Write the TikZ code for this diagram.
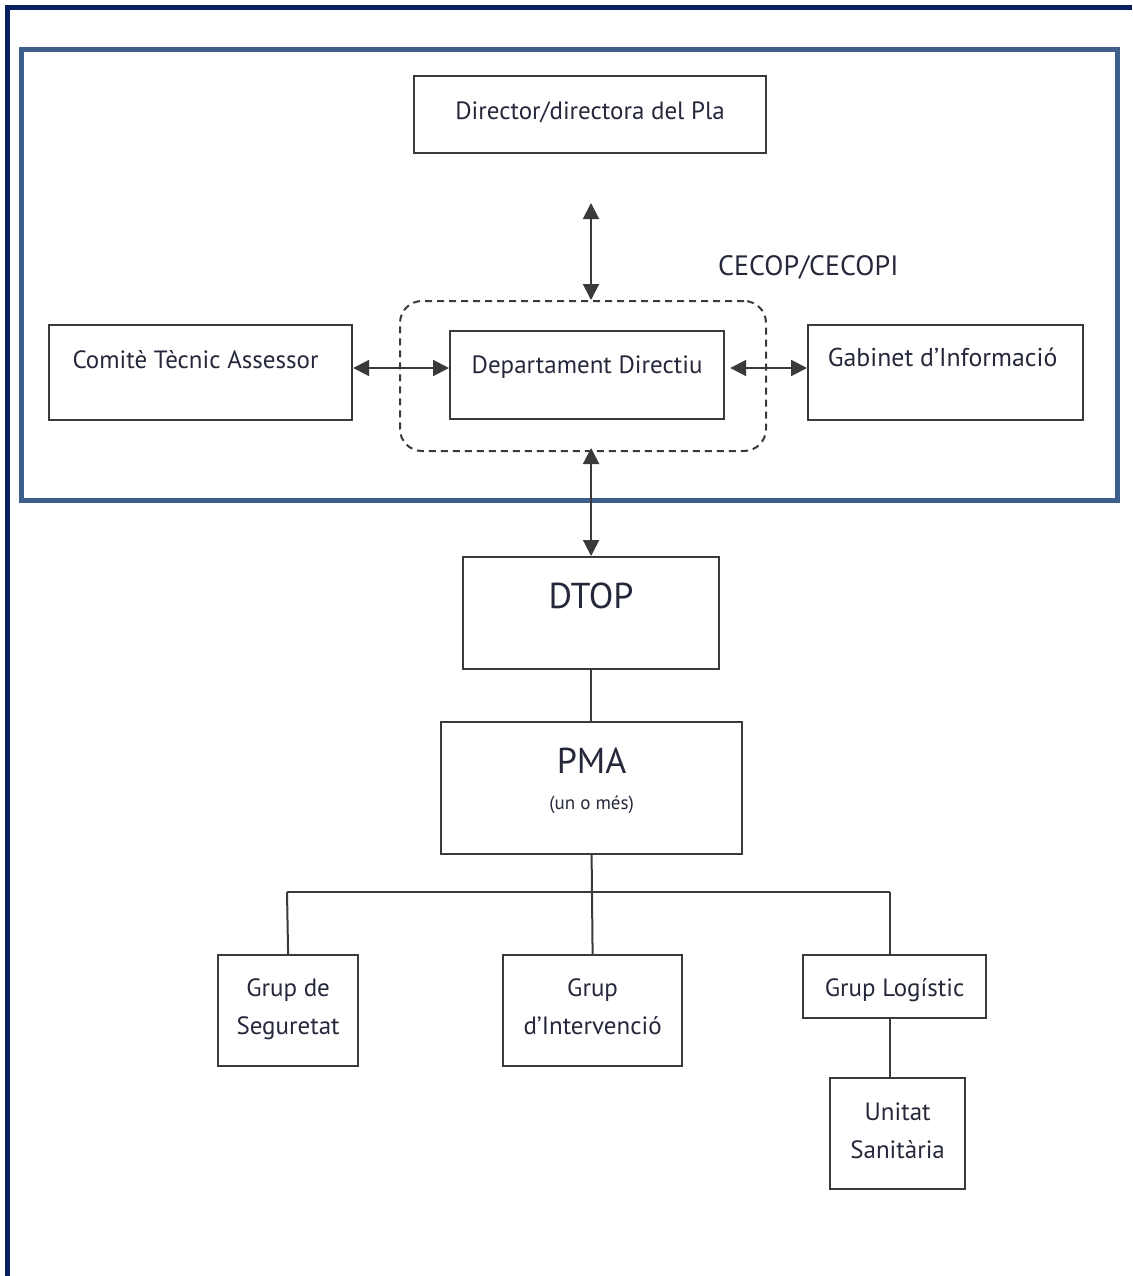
\documentclass[tikz,border=0pt]{standalone}
\usepackage{fontspec}
\setmainfont{PT Sans}
\usetikzlibrary{arrows.meta}
\definecolor{navy}{HTML}{0B1F5E}
\definecolor{steel}{HTML}{3E5F8C}
\definecolor{ink}{HTML}{25283A}
\definecolor{edge}{HTML}{3A3A3A}
\begin{document}
\begin{tikzpicture}[x=1pt,y=-1pt,
  box/.style={draw=edge, line width=2.2pt, inner sep=0pt, text=ink, align=center,
    anchor=north west, font=\fontsize{25}{38}\selectfont},
  big/.style={font=\fontsize{36}{40}\selectfont},
  conn/.style={draw=edge, line width=2pt},
  dbl/.style={conn, {Triangle[length=16pt,width=16pt]}-{Triangle[length=16pt,width=16pt]}}
]
\useasboundingbox (0,0) rectangle (1132,1276);
% frames
\draw[navy, line width=5pt] (7.5,1276) -- (7.5,7.5) -- (1132,7.5);
\draw[steel, line width=5pt] (21.5,50) rectangle (1117,500);

% top group
\node[box, minimum width=352, minimum height=77, text height=43, text depth=34] (dir) at (413,75) {Director/directora del Pla};
\node[box, minimum width=303, minimum height=95, text height=43, text depth=52] (com) at (48,324) {Comitè Tècnic Assessor\hspace{10pt}};
\node[box, minimum width=274, minimum height=88, text height=42, text depth=46] (dep) at (449,330) {Departament Directiu};
\node[box, minimum width=275, minimum height=95, text height=41, text depth=54, font=\fontsize{25.8}{38}\selectfont] (gab) at (807,324) {Gabinet d’Informació\hspace{6pt}};
\node[draw=edge, line width=2pt, dash pattern=on 7pt off 5pt, rounded corners=22pt, anchor=north west,
  minimum width=366, minimum height=150, inner sep=0pt] (cecop) at (399,300) {};
\node[anchor=base west, inner sep=0pt, text=ink, font=\fontsize{28}{30}\selectfont] (cecoplbl) at (718,275) {CECOP/CECOPI};

% lower group
\node[box, big, minimum width=256, minimum height=112, text height=51, text depth=61] (dtop) at (462,556) {DTOP};
\node[box, big, minimum width=301, minimum height=132, text height=87, text depth=45] (pma) at (440,721)
  {PMA\\[-4pt]{\fontsize{19}{22}\selectfont (un o més)}};
\node[box, minimum width=140, minimum height=111, text height=79, text depth=32] (seg) at (217,954) {Grup de\\Seguretat};
\node[box, minimum width=179, minimum height=111, text height=79, text depth=32] (int) at (502,954) {Grup\\d’Intervenció};
\node[box, minimum width=183, minimum height=63, text height=41, text depth=22] (log) at (802,954) {Grup Logístic};
\node[box, minimum width=135, minimum height=111, text height=80, text depth=31] (uni) at (829,1077) {Unitat\\Sanitària};

% connectors
\coordinate (top) at (591,203);
\coordinate (ly) at (0,368);
\coordinate (bL) at (287,892);
\coordinate (bR) at (890,892);
\draw[dbl] (top) -- (top |- cecop.north);
\draw[dbl] ([yshift=4pt]cecop.south -| dtop.north) -- (dtop.north);
\draw[dbl] (com.east |- ly) -- (dep.west |- ly);
\draw[dbl] ([xshift=5pt]dep.east |- ly) -- (gab.west |- ly);
\draw[conn] (dtop.south) -- (dtop.south |- pma.north);
\draw[conn] (pma.south) -- (int.north);
\draw[conn] (bL) -- (bR);
\draw[conn] (bL) -- (seg.north);
\draw[conn] (bR) -- (bR |- log.north);
\draw[conn] (bR |- log.south) -- (bR |- uni.north);
\end{tikzpicture}
\end{document}
